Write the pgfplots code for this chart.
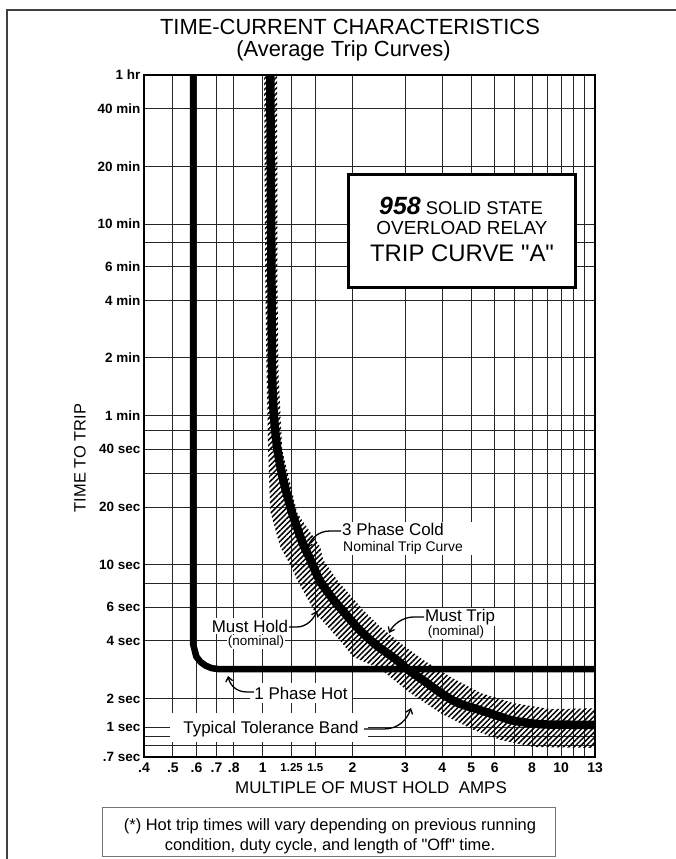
\documentclass[border=0pt]{standalone}
\usepackage{fontspec}
\setmainfont{Liberation Sans}[Ligatures=TeXOff]
\usepackage{pgfplots}
\pgfplotsset{compat=1.18}
\usetikzlibrary{patterns.meta,arrows.meta}

\begin{document}
\begin{tikzpicture}[x=1bp,y=1bp]
\useasboundingbox (0,0) rectangle (676,859);
\begin{axis}[
  at={(144bp,102bp)}, anchor=south west,
  scale only axis, width=451bp, height=682bp,
  xmode=log, xmin=0.4, xmax=13,
  ymin=0.7, ymax=3600,
  % time axis of the chart: log scale, squeezed between 1 and 2 sec
  y coord trafo/.code={\pgfmathparse{ifthenelse(#1<1,0.4342945*ln(#1)+0.150515,ifthenelse(#1<2,0.2171472*ln(#1)+0.150515,0.4342945*ln(#1)))}},
  xtick={0.4,0.5,0.6,0.7,0.8,1,1.25,1.5,2,3,4,5,6,7,8,9,10,11,12,13},
  xticklabels={.4,.5,.6,.7,.8,1,{\fontsize{11.5}{11.5}\selectfont 1.25},{\fontsize{11.5}{11.5}\selectfont 1.5},2,3,4,5,6,,8,,10,,,13},
  ytick={0.7,0.8,0.9,1,2,4,6,8,10,20,30,40,50,60,120,240,360,480,600,1200,2400,3600},
  yticklabels={.7 sec,,,1 sec,2 sec,4 sec,6 sec,,10 sec,20 sec,,40 sec,,1 min,2 min,4 min,6 min,,10 min,20 min,40 min,1 hr},
  grid=major, major grid style={black!85, line width=0.9bp},
  major tick length=0pt, minor tick num=0,
  axis line style={line width=1.1bp},
  xticklabel style={font=\fontsize{14}{14}\selectfont\bfseries, inner sep=0pt, anchor=north, yshift=-6bp},
  yticklabel style={font=\fontsize{13.5}{13.5}\selectfont\bfseries, inner sep=0pt, anchor=east, xshift=-3.5bp},
]
% typical tolerance band: must hold edge, then must trip edge back up
\addplot[draw=none, mark=none, pattern={Lines[angle=45,distance=3.8bp,line width=1.5bp]}] coordinates {
  (1.011,3600) (1.02,300) (1.03,100) (1.043,40) (1.06,19) (1.144,12.4)
  (1.236,10) (1.305,8.3) (1.50,5.6) (1.82,4) (2.01,3.3) (2.48,2.85)
  (3.12,2.14) (3.94,1.41) (5.08,0.97) (6.26,0.86) (8.07,0.79) (13,0.78)
  (13,1.58) (9.2,1.55) (6.92,1.79) (5.37,2.14) (4.26,2.59) (3.45,3.18)
  (2.89,3.90) (2.48,4.73) (2.17,5.80) (1.777,8.3) (1.595,10.6) (1.558,12.4)
  (1.305,18.6) (1.162,40) (1.13,100) (1.12,300) (1.118,3600)
} -- cycle;
% 3 phase cold, nominal trip curve
\addplot[black, line width=8.5bp, mark=none, smooth, tension=0.4] coordinates {
  (1.06,3600) (1.065,1000) (1.07,300) (1.075,100) (1.09,60) (1.12,40)
  (1.17,28) (1.25,19) (1.36,13) (1.45,10.5) (1.55,8.3) (1.72,6.6)
  (1.90,5.5) (2.1,4.6) (2.4,3.8) (2.8,3.2) (3.05,2.85) (3.5,2.45)
  (3.95,2.14) (4.5,1.8) (5.4,1.5) (6.8,1.19) (8.0,1.1) (9,1.07) (13,1.06)
};
% 1 phase hot
\addplot[black, line width=6.5bp, mark=none, line join=round] coordinates {
  (0.584,3600) (0.584,3.85) (0.592,3.56) (0.599,3.31) (0.618,3.11)
  (0.643,2.97) (0.674,2.88) (0.709,2.85) (13,2.85)
};
\end{axis}

\begin{scope}[shift={(0bp,859bp)}, x=1bp, y=-1bp]
  \draw[line width=1.2bp, black!75] (7,859) -- (7,10) -- (676,10);
  \node[anchor=base, inner sep=0, font=\fontsize{22}{22}\selectfont] at (350,35) {TIME-CURRENT CHARACTERISTICS};
  \node[anchor=base, inner sep=0, font=\fontsize{22}{22}\selectfont] at (343.5,57) {(Average Trip Curves)};
  \node[rotate=90, inner sep=0, font=\fontsize{16.5}{16.5}\selectfont] at (80,458) {TIME TO TRIP};
  \node[inner sep=0, font=\fontsize{17}{17}\selectfont] at (371,788) {MULTIPLE OF MUST HOLD\ \ AMPS};

  % relay box
  \draw[line width=3bp, fill=white] (348,175) rectangle (575,288);
  \node[anchor=base west, inner sep=0] at (379,215) {\fontsize{25}{25}\selectfont\bfseries\itshape 958\fontsize{18.5}{18.5}\selectfont\mdseries\upshape\ SOLID STATE};
  \node[anchor=base, inner sep=0, font=\fontsize{19}{19}\selectfont] at (462,235) {OVERLOAD RELAY};
  \node[anchor=base, inner sep=0, font=\fontsize{24}{24}\selectfont] at (462,261.5) {TRIP CURVE "A"};

  % callouts
  \tikzset{lead/.style={line width=1.3bp, -{Straight Barb[length=4.5bp,width=7bp]}}}
  \fill[white] (339,522) rectangle (472,555);
  \node[anchor=base west, inner sep=0, font=\fontsize{17}{17}\selectfont] at (342,536) {3 Phase Cold};
  \node[anchor=base west, inner sep=0, font=\fontsize{14}{14}\selectfont] at (343,551.5) {Nominal Trip Curve};
  \draw[lead] (341,531) -- (330,531) .. controls (318,531) and (311,539) .. (307,548);

  \node[fill=white, inner sep=1.5bp, font=\fontsize{17}{17}\selectfont] at (250,626) {Must Hold};
  \node[fill=white, inner sep=1bp, font=\fontsize{13.5}{13.5}\selectfont] at (256,642) {(nominal)};
  \draw[lead] (289,627) -- (297,627) .. controls (306,627) and (313,620) .. (317,611);

  \node[fill=white, inner sep=1.5bp, font=\fontsize{17}{17}\selectfont] at (460,617) {Must Trip};
  \node[fill=white, inner sep=1bp, font=\fontsize{13.5}{13.5}\selectfont] at (456,632) {(nominal)};
  \draw[lead] (424,617) -- (414,617) .. controls (402,617) and (393,625) .. (389,633);

  \node[fill=white, inner sep=4bp, font=\fontsize{17}{17}\selectfont] at (301,693) {1 Phase Hot};
  \draw[lead] (254,692) -- (247,692) .. controls (236,692) and (230,685) .. (228,676);

  \fill[white] (170,713) rectangle (368,742);
  \node[inner sep=0, font=\fontsize{17}{17}\selectfont] at (271,729) {Typical Tolerance Band};
  \draw[lead] (364,729) -- (384,729) .. controls (398,729) and (407,720) .. (411,708);

  % footnote
  \draw[line width=0.8bp, black!55] (102,807) rectangle (555,856);
  \node[inner sep=0, font=\fontsize{16.5}{16.5}\selectfont] at (330,826) {(*) Hot trip times will vary depending on previous running};
  \node[inner sep=0, font=\fontsize{16.5}{16.5}\selectfont] at (330,846) {condition, duty cycle, and length of "Off" time.};
\end{scope}
\end{tikzpicture}
\end{document}
